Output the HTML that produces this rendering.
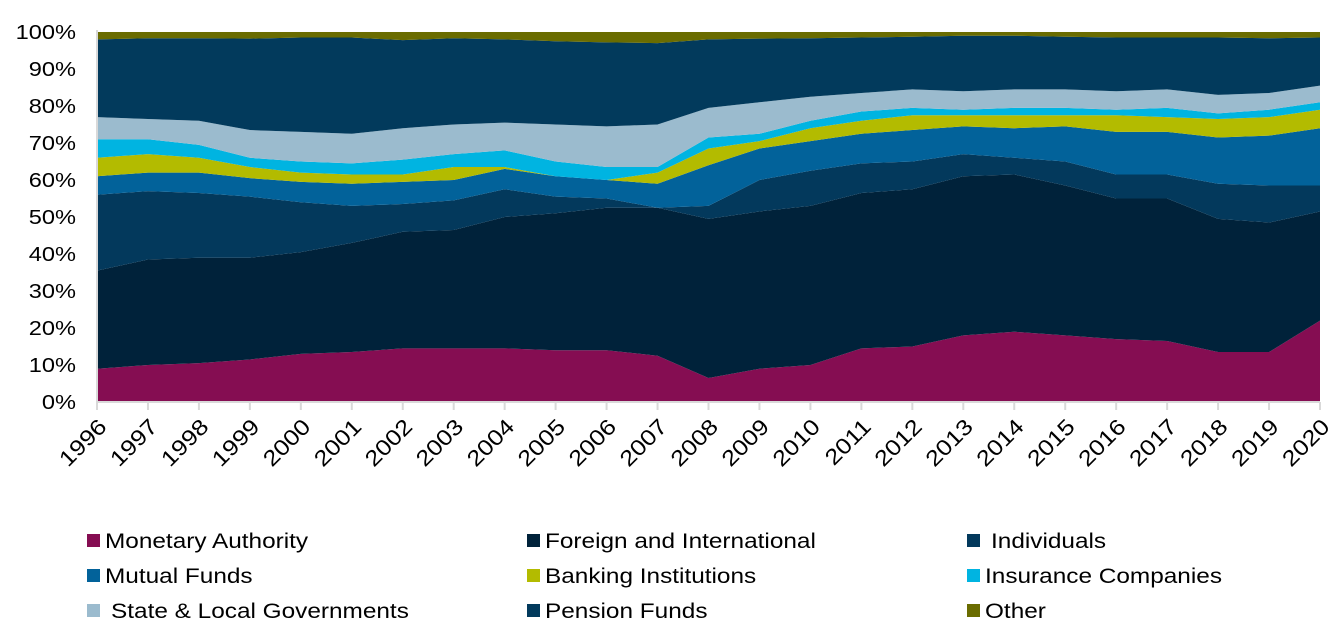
<!DOCTYPE html>
<html><head><meta charset="utf-8"><style>
body{margin:0;background:#fff;width:1336px;height:636px;overflow:hidden;font-family:"Liberation Sans",Arial,sans-serif}
</style></head><body>
<svg id="chart" width="1336" height="636" xmlns="http://www.w3.org/2000/svg"></svg>
<script>
const years=[1996,1997,1998,1999,2000,2001,2002,2003,2004,2005,2006,2007,2008,2009,2010,2011,2012,2013,2014,2015,2016,2017,2018,2019,2020];
const monetary=[9,10,10.5,11.5,13,13.5,14.5,14.5,14.5,14,14,12.5,6.5,9,10,14.5,15,18,19,18,17,16.5,13.5,13.5,22];
const foreign=[26.5,28.5,28.5,27.5,27.5,29.5,31.5,32,35.5,37,38.5,40,43,42.5,43,42,42.5,43,42.5,40.5,38,38.5,36,35,29.5];
const individuals=[20.5,18.5,17.5,16.5,13.5,10,7.5,8,7.5,4.5,2.5,0,3.5,8.5,9.5,8,7.5,6,4.5,6.5,6.5,6.5,9.5,10,7];
const mutual=[5,5,5.5,5,5.5,6,6,5.5,5.5,5.5,5,6.5,11,8.5,8,8,8.5,7.5,8,9.5,11.5,11.5,12.5,13.5,15.5];
const banking=[5,5,4,3,2.5,2.5,2,3.5,0.5,0,0,3,4.5,2,3.5,3.5,4,3,3.5,3,4.5,4,5,5,5];
const insurance=[5,4,3.5,2.5,3,3,4,3.5,4.5,4,3.5,1.5,3,2,2,2.5,2,1.5,2,2,1.5,2.5,1.5,2,2];
const stateLocal=[6,5.5,6.5,7.5,8,8,8.5,8,7.5,10,11,11.5,8,8.5,6.5,5,5,5,5,5,5,5,5,4.5,4.5];
const pension=[21,21.8,22.3,24.7,25.5,26,23.8,23.3,22.5,22.5,22.7,22,18.5,17.2,15.8,15,14.2,15,14.5,14.2,14.5,14,15.5,14.8,13];
const other=[2,1.7,1.7,1.8,1.5,1.5,2.2,1.7,2,2.5,2.8,3,2,1.8,1.7,1.5,1.3,1,1,1.3,1.5,1.5,1.5,1.7,1.5];
const yTicks=[0,10,20,30,40,50,60,70,80,90,100];
const seriesNames=["Monetary Authority","Foreign and International","Individuals","Mutual Funds","Banking Institutions","Insurance Companies","State & Local Governments","Pension Funds","Other"];
const seriesData=[monetary,foreign,individuals,mutual,banking,insurance,stateLocal,pension,other];
const colors=["#850D52","#00223A","#03395C","#02629A","#B3BB00","#00B4E1","#9BBBCE","#023A5C","#6A6C00"];
const NS="http://www.w3.org/2000/svg";
const svg=document.getElementById('chart');
const X0=97,X1=1320,Y0=402,Y1=32,SX=1.2;
const x=i=>X0+(X1-X0)*i/(years.length-1);
const y=v=>Y0-(Y0-Y1)*v/100;
function mk(t,a){const e=document.createElementNS(NS,t);for(const k in a)e.setAttribute(k,a[k]);svg.appendChild(e);return e;}
function stretch(t,s){const w=t.getComputedTextLength();t.setAttribute('textLength',(w*s).toFixed(1));t.setAttribute('lengthAdjust','spacingAndGlyphs');}
let base=years.map(()=>0);
seriesData.forEach((s,si)=>{
  const top=base.map((b,i)=>b+s[i]);
  let d="M"+years.map((_,i)=>x(i)+","+y(top[i])).join(" L");
  for(let i=years.length-1;i>=0;i--)d+=" L"+x(i)+","+y(base[i]);
  const p=mk('path',{d:d+"Z",fill:colors[si]});
  
  
  base=top;
});
const ya=mk('line',{x1:X0,x2:X0,y1:Y1-2,y2:Y0,stroke:'#d9d9d9','stroke-width':2});


const xa=mk('line',{x1:X0,x2:X1,y1:Y0,y2:Y0,stroke:'#d9d9d9','stroke-width':2});


yTicks.forEach(v=>{
  const t=mk('text',{x:76,y:y(v)+7,'text-anchor':'end','font-size':20,fill:'#000'});
  t.textContent=v+'%';
  
  
  stretch(t,1.18);
});
years.forEach((yr,i)=>{
  const tk=mk('line',{x1:x(i),x2:x(i),y1:Y0,y2:Y0+8,stroke:'#d9d9d9','stroke-width':2});
  
  
  const ax=x(i)+11,ay=Y0+26;
  const t=mk('text',{x:ax,y:ay,'text-anchor':'end','font-size':22,fill:'#000',transform:`rotate(-45 ${ax} ${ay})`});
  t.textContent=yr;
  
  
  stretch(t,1.15);
});
const legendPad=[0,0,6,0,0,0,6,0,0];
seriesNames.forEach((n,i)=>{
  const cx=[87,527,967][i%3],cy=[540,575,610][Math.floor(i/3)];
  const r=mk('rect',{x:cx,y:cy-6,width:13,height:13,fill:colors[i]});
  
  
  const t=mk('text',{x:cx+18+legendPad[i],y:cy+8,'font-size':21,fill:'#000'});
  t.textContent=n;
  
  
  stretch(t,1.16);
});
</script>
</body></html>
